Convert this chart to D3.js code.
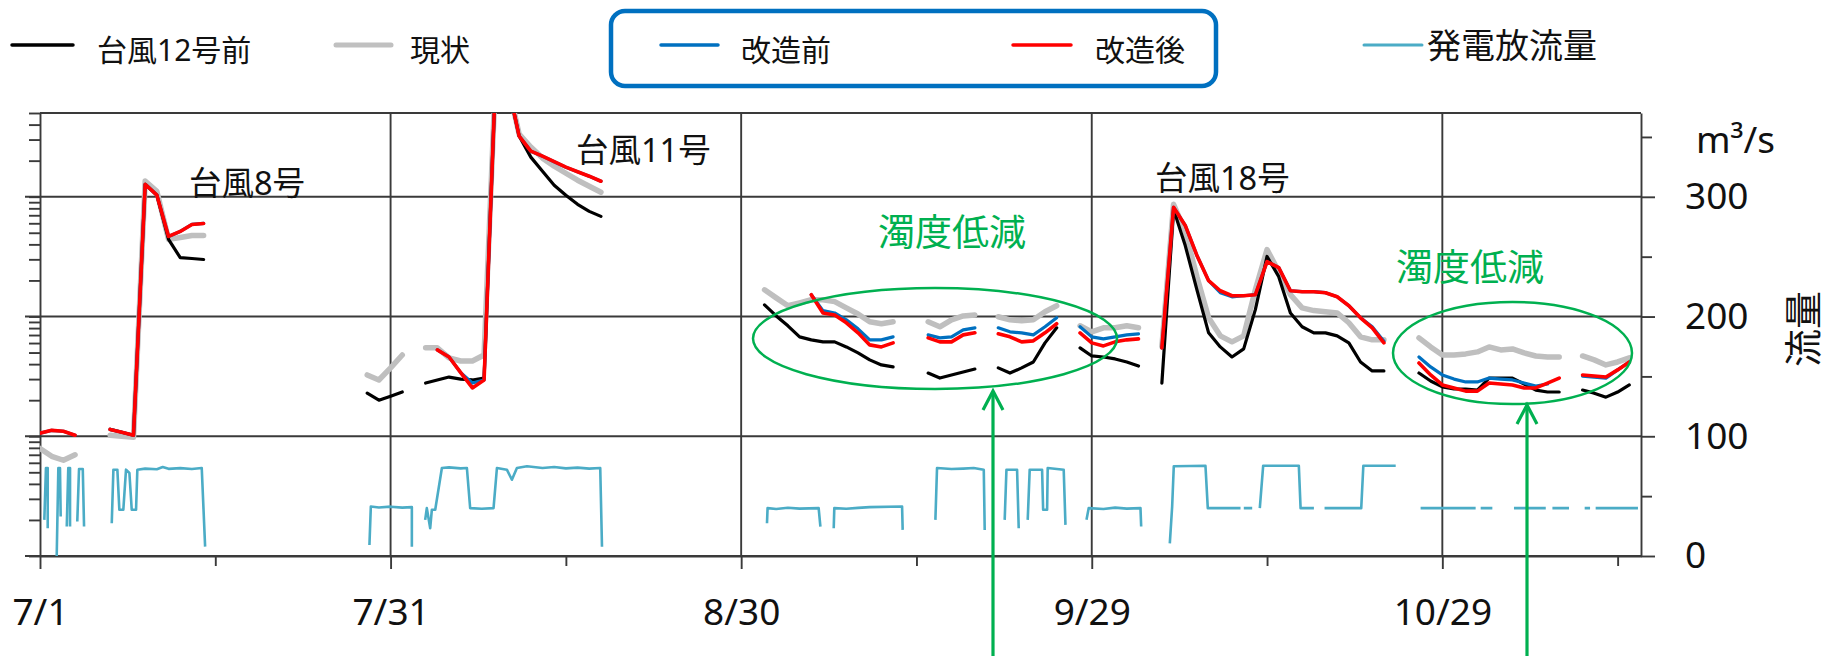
<!DOCTYPE html>
<html><head><meta charset="utf-8">
<script src="https://cdn.jsdelivr.net/npm/d3@7"></script>
<style>
html,body{margin:0;padding:0;background:#fff;}
svg{display:block;font-family:"Noto Sans","Noto Sans CJK JP",sans-serif;}
</style></head><body>
<svg id="chart" width="1827" height="656"></svg>
<script>
// Day offsets from 7/1; a null value in the series breaks the line
const days = [0,1,2,3,4, 6,7,8,9,10,11,12,13,14,15, 28,29,30,31,32,
  33,34,35,36,37,38,39,40,41,42,43,44,45,46,47,48,49,
  62,63,64,65,66,67,68,69,70,71,72,73,74, 76,77,78,79,80,81,
  82,83,84,85,86,87,88, 89,90,91,92,93,94,95,
  96,97,98,99,100,101,102,103,104,105,106,107,108,109,110,111,112,113,114,115,116,
  118,119,120,121,122,123,124,125,126,127,128,129,130,131, 132,133,134,135,136];

// Turbidity, log scale (台風12号前)
const turbBefore12 = [null,null,null,null,null,
  1.14,1.08,1.02,127,103,44,31,30.5,29.9,null,
  2.29,2.00,2.16,2.34,null,
  2.78,2.95,3.12,3.00,2.95,3.06,1100,900,321,214,163,124.6,102.7,86.4,75.4,68.5,null,
  12.5,10.1,8.36,6.76,6.38,6.14,6.14,5.57,4.96,4.34,3.94,3.79,null,
  3.37,3.06,3.25,3.44,3.64,null,
  3.72,3.37,3.72,4.17,6.02,8.04,null,
  5.47,4.68,4.59,4.42,4.17,3.86,null,
  2.78,78.4,39.1,16.7,7.30,5.57,4.59,5.36,11.4,31.7,21.5,10.7,8.20,7.30,7.30,6.89,6.02,4.17,3.51,3.51,null,
  3.37,2.89,2.58,2.48,2.48,2.43,3.06,3.06,3.06,2.73,2.43,2.34,2.34,null,
  2.43,2.29,2.12,2.34,2.68];

// 現状
const turbCurrent = [0.79,0.68,0.63,0.70,null,
  1.02,1.00,0.98,135,111,44,45.7,47.5,47.5,null,
  3.25,2.95,3.72,4.77,null,
  5.47,5.47,4.51,4.25,4.25,4.77,1100,900,333,259.5,210,179.8,157,137.3,122.3,108.9,null,
  16.7,14.3,12.3,13.0,13.8,13.8,13.3,11.8,10.5,9.03,8.69,9.03,null,
  9.03,8.20,9.38,10.1,10.3,null,
  9.94,9.38,9.2,9.38,10.95,12.3,null,
  8.36,7.44,8.04,8.04,8.36,8.04,null,
  5.6,86.4,51.3,21.5,9.75,6.89,6.14,6.89,16.7,36.2,23.7,15.2,11.8,11.2,10.95,10.7,8.86,6.76,6.38,6.38,null,
  6.63,5.57,4.77,4.77,4.87,5.06,5.57,5.26,5.36,4.96,4.68,4.59,4.59,null,
  4.68,4.34,3.94,4.17,4.51];

// 改造前
const turbBeforeMod = [1.06,1.12,1.10,1.02,null,
  1.14,1.08,1.02,127,103,46.6,51.3,58.7,59.8,null,
  null,null,null,null,null,
  null,5.26,4.59,3.4,2.78,2.95,1100,900,321,240,218,196,176.4,161.7,148.3,134.6,null,
  null,null,null,null,15.2,11.2,10.7,9.38,7.89,6.38,6.38,6.76,null,
  7.02,6.63,6.76,7.74,8.04,null,
  8.04,7.44,7.30,7.02,8.20,9.75,null,
  8.2,6.76,6.5,6.76,7.02,7.16,null,
  5.47,81.5,57.6,32.3,19.9,15.8,14.6,14.9,15.2,28.7,25.6,16.4,16.1,16.1,15.8,14.6,12.3,9.75,8.2,6.2,null,
  4.59,3.79,3.25,3.0,2.84,2.84,3.06,3.0,2.95,2.78,2.62,2.73,null,null,
  3.18,3.12,3.06,3.58,4.17];

// 改造後
const turbAfterMod = [1.06,1.12,1.10,1.02,null,
  1.14,1.08,1.02,127,103,46.6,51.3,58.7,59.8,null,
  null,null,null,null,null,
  null,5.26,4.59,3.4,2.53,2.95,1100,900,321,240,218,196,176.4,161.7,148.3,134.6,null,
  null,null,null,null,15.2,10.7,10.3,8.86,7.30,5.79,5.57,6.02,null,
  6.63,6.14,6.14,7.02,7.30,null,
  7.16,6.76,6.14,6.26,7.30,8.69,null,
  7.30,6.02,5.68,6.14,6.38,6.5,null,
  5.47,81.5,57.6,32.3,19.9,16.4,14.9,14.9,15.2,28.7,25.6,16.4,16.1,16.1,15.8,14.6,12.3,9.75,8.04,6.02,null,
  4.09,3.25,2.68,2.53,2.38,2.38,2.78,2.73,2.68,2.53,2.53,2.78,3.06,null,
  3.25,3.18,3.12,3.58,4.17];

// 発電放流量 (m3/s); a null rate breaks the line
const flowDays = [0.37,0.51,0.66,0.66,0.7, 1.43,1.57,1.71,1.77,1.8, 2.29,2.42,2.57,2.57,2.6, 3.19,3.34,3.66,3.77,3.8,
  6.14,6.28,6.62,6.79,7.13,7.36,7.65,7.85,8.22,8.33,9,10,10.5,11,12,13,13.84,14.13,14.2,
  28.19,28.31,29,30,31,31.82,31.82,31.9,
  32.96,33.1,33.39,33.53,33.82,34.39,35,36,36.53,36.81,37.8,38.81,39.1,39.95,40.38,40.81,41.67,43,44,45,46,47,47.94,48.09,48.2,
  62.21,62.26,63,64,65,66.63,66.78,66.8,
  67.92,67.97,69,70,71,73.77,73.82,73.9,
  76.62,76.76,78,79,79.9,80.76,80.84,80.9,
  82.55,82.7,83.61,83.75,83.8,
  84.52,84.69,85.75,85.84,86.18,86.23,87.6,87.75,87.8,
  89.55,89.74,91,92,93,94.17,94.23,94.3,
  96.68,96.88,97.02,99.73,99.93,102.73,102.8,
  103.01,103.73,103.8,
  104.38,104.67,107.72,107.87,109.01,109.1,
  109.92,113.06,113.24,116.01,116.1,
  118.14,122.85,122.9, 123.28,124.28,124.3, 126.13,128.85,128.9, 129.42,130.84,130.9,
  132.18,132.64,132.7, 133.12,136.74];
const flowRates = [30.2,73.5,73.5,23.2,null, 0,73.5,73.5,33,null, 24.6,73.5,73.5,24.6,null, 28.8,72.7,72.7,24.6,null,
  27.4,72.1,72.1,38.6,38.6,72.1,69.3,38.6,38.6,72.1,73.0,72.5,74.3,72.8,73.4,72.6,73.5,7.8,null,
  9.2,41.3,40.5,41.2,40.4,40.8,7.8,null,
  30.2,40,23.2,38.6,38.6,73.5,74.0,73.2,73.5,40,39.4,40,73.5,72.1,63.7,73.5,74.9,73.5,74.3,73.2,73.8,73.0,73.5,7.8,null,
  27.4,40,39.2,40.3,39.6,40,24.6,null,
  23.2,40,39.4,40.2,40.8,41.3,21.8,null,
  30.2,73.5,72.6,73.0,73.5,72.1,21.8,null,
  30.2,72.1,72.1,23.2,null,
  30.2,72.1,72.1,38.6,38.6,73.5,72.1,26,null,
  30.2,40,39.3,40.4,39.6,40,24.6,null,
  10.6,41.3,74.9,75.4,40,40,null,
  40,40,null,
  40,75.4,75.4,40,40,null,
  40,40,75.4,75.4,null,
  40,40,null, 40,40,null, 40,40,null, 40,40,null,
  40,40,null, 40,40];

// Axis ticks
const xTickDays = [0,30,60,90,120];
const xTickLabels = ["7/1","7/31","8/30","9/29","10/29"];
const xMinorDays = [15,45,75,105,135];
const flowTicks = [0,100,200,300];
const flowMinorTicks = [50,150,250,350];

// Legend entries
const legendItems = [
  {label:"台風12号前", color:"#000000", width:3.5, x1:12, x2:73, tx:97, ty:49, size:30},
  {label:"現状", color:"#C0C0C0", width:5, x1:336, x2:391, tx:410, ty:49, size:30},
  {label:"改造前", color:"#0070C0", width:3.5, x1:661, x2:718, tx:741, ty:49, size:30},
  {label:"改造後", color:"#FF0000", width:3.5, x1:1013, x2:1071, tx:1095, ty:49, size:30},
  {label:"発電放流量", color:"#4BACC6", width:3, x1:1364, x2:1422, tx:1427, ty:45, size:34}
];

const svg = d3.select("#chart");
const P = {left:40, right:1641, top:113, bottom:556};
const x = d3.scaleLinear().domain([0,137]).range([P.left,P.right]);
const yT = d3.scaleLog().domain([0.1,500]).range([P.bottom,P.top]);
const yQ = d3.scaleLinear().domain([0,370]).range([P.bottom,P.top]);
const gridColor = "#3a3a3a";

svg.append("rect").attr("width",1827).attr("height",656).attr("fill","#fff");

// grid lines
const grid = svg.append("g").attr("stroke",gridColor).attr("stroke-width",1.9).attr("fill","none");
grid.selectAll("line.h").data(flowTicks).join("line")
  .attr("x1",25).attr("x2",P.right).attr("y1",d=>yQ(d)).attr("y2",d=>yQ(d));
grid.append("line").attr("x1",P.left).attr("x2",P.right).attr("y1",P.top).attr("y2",P.top);
grid.selectAll("line.v").data(xTickDays.slice(1)).join("line")
  .attr("x1",d=>x(d)).attr("x2",d=>x(d)).attr("y1",P.top).attr("y2",P.bottom);

function styleAxis(g){
  g.selectAll("path.domain").attr("stroke",gridColor).attr("stroke-width",1.9);
  g.selectAll(".tick line").attr("stroke",gridColor).attr("stroke-width",1.9);
}

// left log axis (minor ticks only, no labels)
svg.append("g").attr("transform",`translate(${P.left},0)`)
  .call(d3.axisLeft(yT).tickValues(yT.ticks()).tickSize(11).tickSizeOuter(0).tickFormat(""))
  .call(styleAxis);

// bottom axis
const xAxisG = svg.append("g").attr("transform",`translate(0,${P.bottom})`)
  .call(d3.axisBottom(x).tickValues(xTickDays).tickSize(13).tickSizeOuter(0).tickPadding(30)
    .tickFormat((d,i)=>xTickLabels[i]))
  .call(styleAxis);
xAxisG.selectAll("text").attr("font-size",37).attr("fill","#111").attr("font-family","Noto Sans");
svg.append("g").attr("transform",`translate(0,${P.bottom})`)
  .call(d3.axisBottom(x).tickValues(xMinorDays).tickSize(10).tickSizeOuter(0).tickFormat(""))
  .call(styleAxis).select("path.domain").remove();

// right flow axis
const yAxisG = svg.append("g").attr("transform",`translate(${P.right},0)`)
  .call(d3.axisRight(yQ).tickValues(flowTicks).tickSize(14).tickSizeOuter(0).tickPadding(30))
  .call(styleAxis);
yAxisG.selectAll("text").attr("font-size",37).attr("fill","#111").attr("font-family","Noto Sans");
svg.append("g").attr("transform",`translate(${P.right},0)`)
  .call(d3.axisRight(yQ).tickValues(flowMinorTicks).tickSize(11).tickSizeOuter(0).tickFormat(""))
  .call(styleAxis).select("path.domain").remove();

// clip
svg.append("clipPath").attr("id","plotClip").append("rect")
  .attr("x",P.left).attr("y",P.top).attr("width",P.right-P.left).attr("height",P.bottom-P.top);
const plot = svg.append("g").attr("clip-path","url(#plotClip)");

// discharge line
const flowData = flowDays.map((d,i)=>({d, v:flowRates[i]}));
plot.append("path").datum(flowData)
  .attr("fill","none").attr("stroke","#4BACC6").attr("stroke-width",2.6).attr("stroke-linejoin","round")
  .attr("d", d3.line().defined(p=>p.v!==null).x(p=>x(p.d)).y(p=>yQ(p.v)));

// turbidity lines
const turbSeries = [
  {values:turbCurrent, color:"#BFBFBF", width:5.5},
  {values:turbBefore12, color:"#000000", width:3.2},
  {values:turbBeforeMod, color:"#0070C0", width:3.2},
  {values:turbAfterMod, color:"#FF0000", width:3.6}
];
const turbLine = d3.line().defined(p=>p.v!==null).x(p=>x(p.d)).y(p=>yT(p.v));
turbSeries.forEach(s=>{
  plot.append("path").datum(days.map((d,i)=>({d, v:s.values[i]})))
    .attr("fill","none").attr("stroke",s.color).attr("stroke-width",s.width)
    .attr("stroke-linejoin","round").attr("stroke-linecap","round")
    .attr("d", turbLine);
});

// typhoon labels
const typhoons = [
  {text:"台風8号", x:189, y:182},
  {text:"台風11号", x:576, y:149},
  {text:"台風18号", x:1155, y:177}
];
svg.selectAll("text.typhoon").data(typhoons).join("text")
  .attr("x",d=>d.x).attr("y",d=>d.y).attr("dominant-baseline","central")
  .attr("font-size",32.5).attr("fill","#111").text(d=>d.text);

// turbidity reduction highlights
const green = "#00B050";
const notes = [
  {text:"濁度低減", tx:878, ty:231, cx:935, cy:338.5, rx:182, ry:50.5, ax:993, tip:391},
  {text:"濁度低減", tx:1396, ty:266, cx:1512.5, cy:353, rx:119.5, ry:51, ax:1527, tip:405}
];
notes.forEach(n=>{
  svg.append("text").attr("x",n.tx).attr("y",n.ty).attr("dominant-baseline","central")
    .attr("font-size",37).attr("fill",green).text(n.text);
  svg.append("ellipse").attr("cx",n.cx).attr("cy",n.cy).attr("rx",n.rx).attr("ry",n.ry)
    .attr("fill","none").attr("stroke",green).attr("stroke-width",2.5);
  svg.append("line").attr("x1",n.ax).attr("x2",n.ax).attr("y1",656).attr("y2",n.tip+1)
    .attr("stroke",green).attr("stroke-width",3.2);
  svg.append("path").attr("d",`M${n.ax-10},${n.tip+19}L${n.ax},${n.tip}L${n.ax+10},${n.tip+19}`)
    .attr("fill","none").attr("stroke",green).attr("stroke-width",3.2).attr("stroke-linejoin","miter");
});

// unit + axis title
svg.append("text").attr("x",1696).attr("y",153).attr("font-size",37).attr("fill","#111")
  .attr("font-family","Noto Sans").text("m³/s");
svg.append("text").attr("transform","translate(1802,329) rotate(-90)")
  .attr("text-anchor","middle").attr("dominant-baseline","central")
  .attr("font-size",38).attr("fill","#111").text("流量");

// legend
svg.append("rect").attr("x",611).attr("y",11).attr("width",605).attr("height",75).attr("rx",14)
  .attr("fill","none").attr("stroke","#0070C0").attr("stroke-width",4.5);
const lg = svg.selectAll("g.legend").data(legendItems).join("g");
lg.append("line").attr("x1",d=>d.x1).attr("x2",d=>d.x2).attr("y1",45).attr("y2",45)
  .attr("stroke",d=>d.color).attr("stroke-width",d=>d.width).attr("stroke-linecap","round");
lg.append("text").attr("x",d=>d.tx).attr("y",d=>d.ty).attr("dominant-baseline","central")
  .attr("font-size",d=>d.size).attr("fill","#111").text(d=>d.label);
</script>
</body></html>
